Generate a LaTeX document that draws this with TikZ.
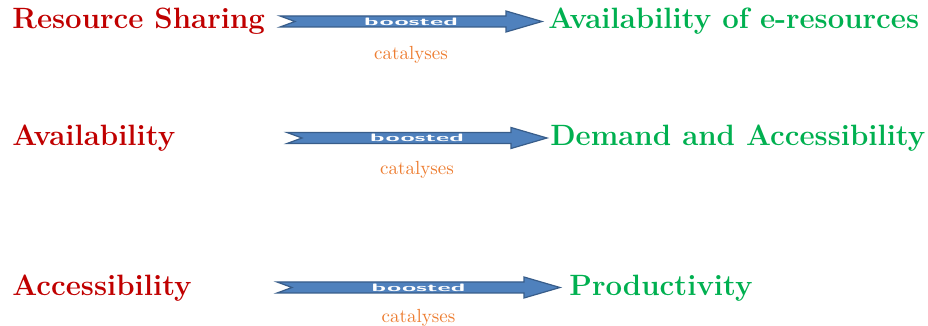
\documentclass[tikz,border=0pt]{standalone}
\usepackage{xcolor}
\usetikzlibrary{calc, positioning}
\definecolor{qred}{RGB}{192,0,0}
\definecolor{qgreen}{RGB}{0,176,80}
\definecolor{qorange}{RGB}{237,125,49}
\definecolor{qblue}{RGB}{79,129,189}
\definecolor{qedge}{RGB}{56,93,138}

\tikzset{
  cause/.style={anchor=west, inner sep=0, text=qred, font=\fontsize{14.7}{17}\selectfont\bfseries},
  effect/.style={anchor=west, inner sep=0, text=qgreen, font=\fontsize{14.7}{17}\selectfont\bfseries},
  boostbody/.style={fill=qblue, draw=qedge, line width=0.6pt, line join=miter},
  boostlabel/.style={inner sep=0, text=white, font=\sffamily\bfseries\fontsize{6.3}{7}\selectfont},
  catlabel/.style={inner sep=0, text=qorange, font=\fontsize{9.5}{11}\selectfont}
}

% block arrow from tail (#1) to tip (#2), label node named #3
\newcommand{\boostarrow}[3]{%
  \draw[boostbody] ($(#1)+(0,-5.5)$) -- ($(#2)+(-36,-5.5)$) -- ($(#2)+(-36,-10.5)$)
    -- (#2) -- ($(#2)+(-36,10.5)$) -- ($(#2)+(-36,5.5)$) -- ($(#1)+(0,5.5)$)
    -- ($(#1)+(15,0)$) -- cycle;
  \node[boostlabel] (#3) at ($(#1)!0.5!(#2)$) {\scalebox{2.05}[0.85]{boosted}};
}

\begin{document}
\begin{tikzpicture}[x=0.5pt, y=-0.5pt]
\useasboundingbox (0,0) rectangle (928,326);

% first row
\node[cause] (share) at (12,21.5) {Resource Sharing};
\node[effect] (eres) at (548,21.5) {Availability of e-resources};
\coordinate (tail1) at (280,21.5);
\coordinate (tip1) at (542,21.5);
\boostarrow{tail1}{tip1}{boost1}
\node[catlabel, below=10pt of boost1] (cat1) {catalyses};

% second row
\node[cause] (avail) at (12,138) {Availability};
\node[effect] (demand) at (550,138) {Demand and Accessibility};
\coordinate (tail2) at (287,138);
\coordinate (tip2) at (547,138);
\boostarrow{tail2}{tip2}{boost2}
\node[catlabel, below=9.5pt of boost2] (cat2) {catalyses};

% third row
\node[cause] (access) at (12,288) {Accessibility};
\node[effect] (prod) at (569,288) {Productivity};
\coordinate (tail3) at (277,287.5);
\coordinate (tip3) at (560,287.5);
\boostarrow{tail3}{tip3}{boost3}
\node[catlabel, below=8.5pt of boost3] (cat3) {catalyses};
\end{tikzpicture}
\end{document}
